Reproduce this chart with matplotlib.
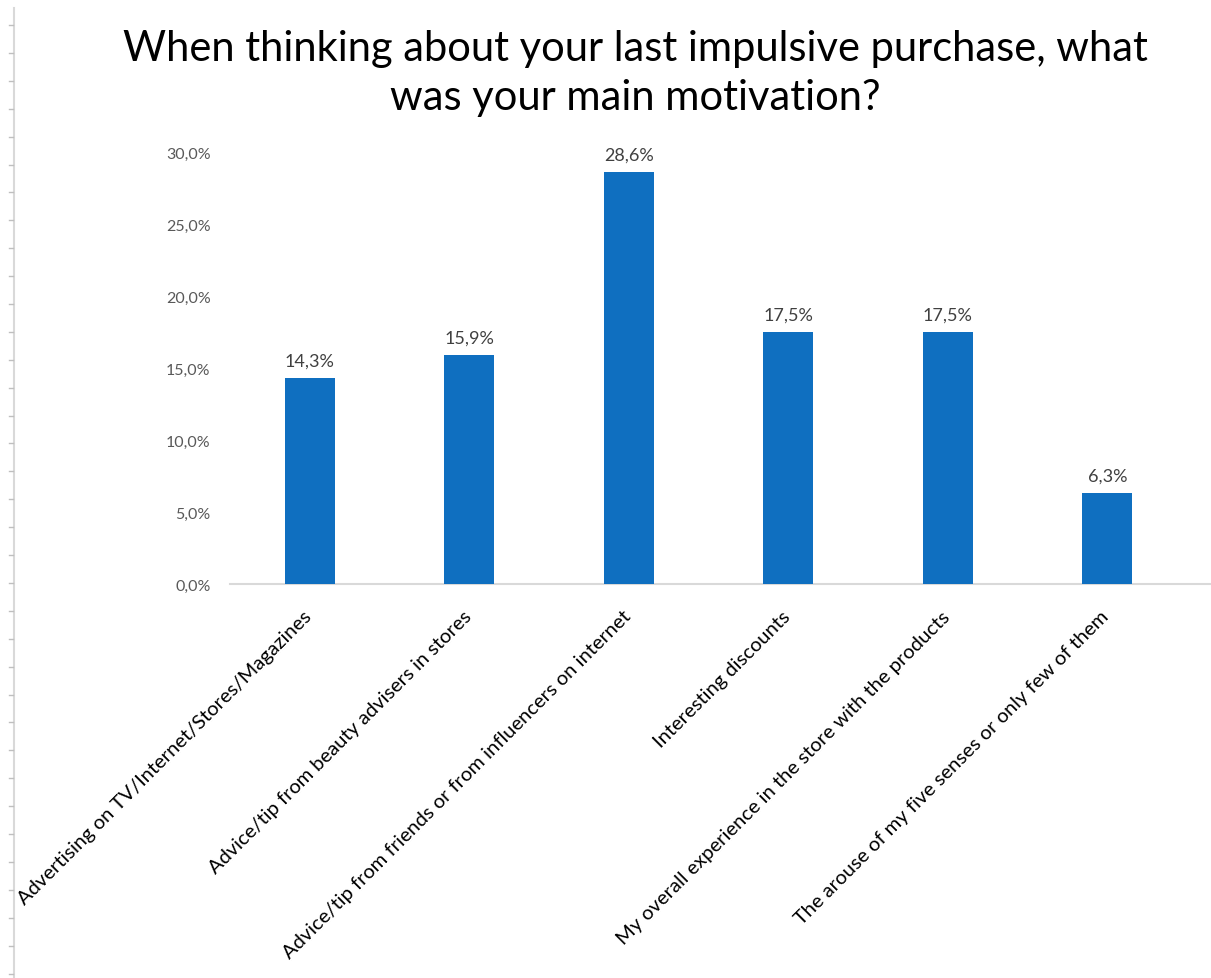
import matplotlib
matplotlib.use('Agg')
import matplotlib.pyplot as plt
from matplotlib.lines import Line2D
from matplotlib.ticker import FuncFormatter
from matplotlib.transforms import ScaledTranslation

plt.rcParams['font.family'] = ['Lato', 'DejaVu Sans']

#survey answers and share of respondents (%)
motivations = ['Advertising on TV/Internet/Stores/Magazines',
               'Advice/tip from beauty advisers in stores',
               'Advice/tip from friends or from influencers on internet',
               'Interesting discounts',
               'My overall experience in the store with the products',
               'The arouse of my five senses or only few of them']
shares = [14.3, 15.9, 28.6, 17.5, 17.5, 6.3]
yticks = [0, 5, 10, 15, 20, 25, 30]

title = 'When thinking about your last impulsive purchase, what\nwas your main motivation?'

fig = plt.figure(figsize=(12.11, 9.79), dpi=100)
ax = fig.add_axes([0.19, 0.4025, 0.81, 0.4412])

x = range(len(motivations))
bars = ax.bar(x, shares, width=0.315, color='#0F6FC0', zorder=3)

ax.set_xlim(-0.5, 5.65)
ax.set_ylim(0, 30)
ax.set_yticks(yticks)
ax.yaxis.set_major_formatter(FuncFormatter(lambda v, p: f'{v:.1f}%'.replace('.', ',')))
ax.tick_params(axis='y', length=0, labelsize=11.5, labelcolor='#595959', pad=14)
ax.tick_params(axis='x', length=0, pad=6)
ax.set_xticks(list(x))
ax.set_xticklabels(motivations, rotation=45, ha='right', rotation_mode='anchor',
                   fontsize=14.5, color='black')
shift = ScaledTranslation(-0.07, -0.15, fig.dpi_scale_trans)
for lbl in ax.get_xticklabels():
    lbl.set_transform(lbl.get_transform() + shift)

for s in ['top', 'right', 'left']:
    ax.spines[s].set_visible(False)
ax.spines['bottom'].set_color('#d9d9d9')
ax.spines['bottom'].set_linewidth(1.5)

for b, v in zip(bars, shares):
    ax.annotate(f'{v:.1f}%'.replace('.', ','), (b.get_x() + b.get_width() / 2, v),
                xytext=(0, 7), textcoords='offset points', ha='center', va='bottom',
                fontsize=13, color='#404040')

fig.text(0.525, 1 - 30 / 979, title, ha='center', va='top', fontsize=30,
         color='black', linespacing=1.35)

#sheet ruler on the left edge
fig.add_artist(Line2D([13.5 / 1211, 13.5 / 1211], [0, 1 - 9 / 979],
                      transform=fig.transFigure, color='#d9d9d9', lw=1.5))
ty = 26
while ty < 979:
    fig.add_artist(Line2D([9 / 1211, 13 / 1211], [1 - ty / 979, 1 - ty / 979],
                          transform=fig.transFigure, color='#bfbfbf', lw=1))
    ty += 27.9

fig.savefig('out.png', dpi=100)
